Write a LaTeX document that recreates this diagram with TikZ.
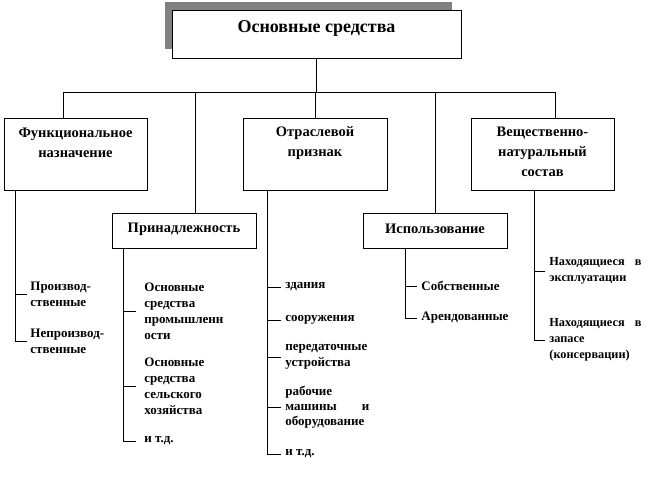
\documentclass[tikz,border=0pt]{standalone}
\usepackage{fontspec}
\setmainfont{Liberation Serif}
\definecolor{shadowgray}{RGB}{128,128,128}
\begin{document}
\begin{tikzpicture}[x=1pt,y=-1pt, line width=0.8pt,
 box/.style={draw, fill=white, line width=0.8pt, inner sep=0pt},
 head/.style={font=\bfseries\fontsize{18}{20}\selectfont, inner sep=0pt},
 lbl/.style={font=\bfseries\fontsize{14.5}{20}\selectfont, align=center, inner sep=0pt},
 item/.style={font=\bfseries\fontsize{13}{16}\selectfont, align=left, anchor=west, inner ysep=0pt, inner xsep=4pt},
 itemp/.style={item, inner xsep=8pt},
 itemf/.style={item, inner xsep=3pt},
 itemv/.style={item, font=\bfseries\fontsize{12.3}{16}\selectfont},
]
\useasboundingbox (0,0) rectangle (653,478);
% top
\fill[shadowgray] (165,2) rectangle (452,49);
\node[box, minimum width=289pt, minimum height=48pt] (top) at (316.5,34) {};
\node[head] (toplbl) at (316.5,28) {Основные средства};
% category boxes
\node[box, minimum width=143pt, minimum height=72pt] (f) at (75.5,154) {};
\node[lbl] (flbl) at (75.5,143) {Функциональное\\назначение};
\node[box, minimum width=144pt, minimum height=72pt] (o) at (315,154) {};
\node[lbl] (olbl) at (315,143) {Отраслевой\\признак};
\node[box, minimum width=143pt, minimum height=72pt] (v) at (542.5,154) {};
\node[lbl] (vlbl) at (542.5,152) {Вещественно-\\натуральный\\состав};
\node[box, minimum width=144pt, minimum height=35pt] (p) at (184,230.5) {};
\node[lbl] (plbl) at (184,229) {Принадлежность};
\node[box, minimum width=144pt, minimum height=35pt] (i) at (435,230.5) {};
\node[lbl] (ilbl) at (435,229) {Использование};
% tree connectors
\coordinate (hl) at (63,92);
\coordinate (hp) at (195,92);
\coordinate (hr) at (555,92);
\draw (top.south) -- (top.south |- hl);
\draw (hl) -- (hr);
\draw (hl) -- (hl |- f.north);
\draw (hp) -- (hp |- p.north);
\draw (o.north) -- (o.north |- hl);
\draw (i.north) -- (i.north |- hl);
\draw (hr) -- (hr |- v.north);
% Функциональное назначение
\coordinate (ftr) at (15,190);
\node[itemf] (f1) at (27,294) {Производ-\\ственные};
\node[itemf] (f2) at (27,341) {Непроизвод-\\ственные};
\draw (ftr) |- (f2.west);
\draw (f1.west -| ftr) -- (f1.west);
% Принадлежность
\coordinate (ptr) at (123,248);
\node[itemp] (p1) at (136,311) {Основные\\средства\\промышленн\\ости};
\node[itemp] (p2) at (136,386) {Основные\\средства\\сельского\\хозяйства};
\node[itemp] (p3) at (136,441) {и т.д.};
\draw (ptr) |- (p3.west);
\draw (p1.west -| ptr) -- (p1.west);
\draw (p2.west -| ptr) -- (p2.west);
% Отраслевой признак
\coordinate (otr) at (267,190);
\node[item] (o1) at (281,287) {здания};
\node[item] (o2) at (281,320) {сооружения};
\node[item] (o3) at (281,357) {передаточные\\устройства};
\node[item, font=\bfseries\fontsize{13}{15}\selectfont] (o4) at (281,407) {рабочие\\\makebox[84pt][l]{машины\hfill и}\\оборудование};
\node[item] (o5) at (281,454) {и т.д.};
\draw (otr) |- (o5.west);
\foreach \n in {o1,o2,o3,o4} \draw (\n.west -| otr) -- (\n.west);
% Использование
\coordinate (itr) at (405,248);
\node[item] (i1) at (417,286) {Собственные};
\node[item] (i2) at (417,318) {Арендованные};
\draw (itr) |- (i2.west);
\draw (i1.west -| itr) -- (i1.west);
% Вещественно-натуральный состав
\coordinate (vtr) at (534,190);
\node[itemv] (v1) at (545,271) {\makebox[92pt][l]{Находящиеся\hfill в}\\эксплуатации};
\node[itemv] (v2) at (545,340) {\makebox[92pt][l]{Находящиеся\hfill в}\\запасе\\(консервации)};
\draw (vtr) |- (v2.west);
\draw (v1.west -| vtr) -- (v1.west);
\end{tikzpicture}
\end{document}
